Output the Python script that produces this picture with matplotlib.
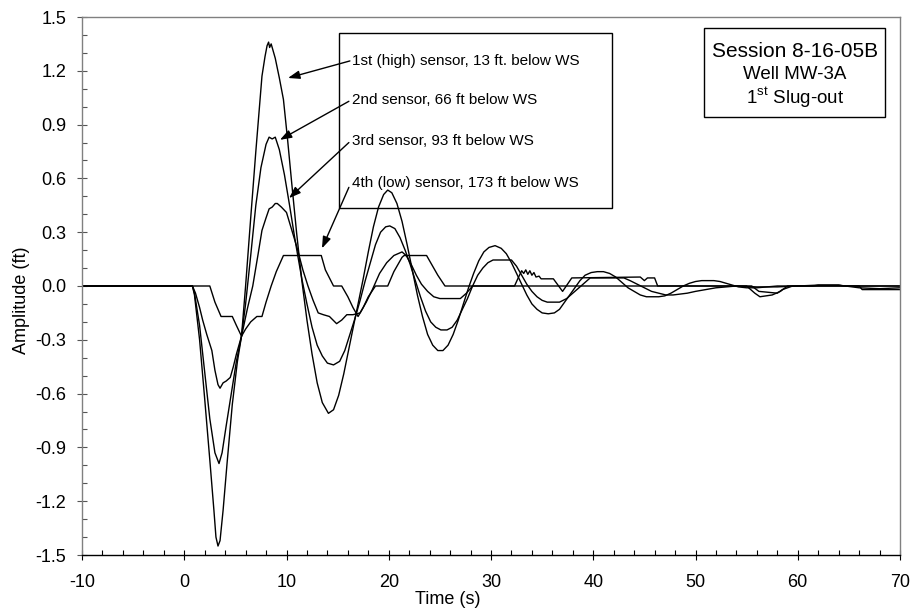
import matplotlib
matplotlib.use("Agg")
import matplotlib.pyplot as plt
from matplotlib.ticker import MultipleLocator, FormatStrFormatter
from matplotlib.patches import Rectangle

plt.rcParams['font.family'] = ['Liberation Sans', 'DejaVu Sans']
plt.rcParams['axes.unicode_minus'] = False
plt.rcParams['mathtext.fontset'] = 'custom'
plt.rcParams['mathtext.rm'] = 'Liberation Sans'

# ---- data (time in s, amplitude in ft) ----
t1 = [-10, 0.8, 1.0, 1.5, 2.0, 2.5, 2.9, 3.1, 3.3, 3.5, 3.8, 4.2, 4.7, 5.2, 5.6, 6.0, 6.5, 7.0, 7.6, 7.9,
      8.1, 8.25, 8.35, 8.5, 8.6, 8.9, 9.3, 9.7, 10.1, 10.5, 11.0, 11.5, 12.0, 12.5, 13.0, 13.5, 14.1, 14.6,
      15.1, 15.6, 16.1, 16.6, 17.0, 17.5, 18.0, 18.5, 19.0, 19.5, 19.9, 20.3, 20.8, 21.3, 21.8, 22.3, 22.8,
      23.3, 23.8, 24.3, 24.8, 25.3, 25.8, 26.3, 26.8, 27.3, 27.8, 28.3, 28.8, 29.3, 29.8, 30.4, 31.0, 31.5,
      32.0, 32.5, 33.0, 33.5, 34.0, 34.5, 35.0, 35.6, 36.2, 36.7, 37.2, 37.7, 38.2, 38.7, 39.2, 39.8, 40.4,
      41.0, 41.6, 42.2, 42.8, 43.4, 44.0, 44.6, 45.2, 45.8, 46.4, 47.0, 47.6, 48.2, 48.8, 49.4, 50.0, 50.6,
      51.2, 51.8, 52.4, 53.0, 53.6, 54.2, 55.0, 56.0, 57.0, 58.0, 60.0, 62.0, 64.0, 66.0, 68.0, 70.0]
a1 = [0, 0, -0.05, -0.30, -0.63, -0.97, -1.25, -1.40, -1.45, -1.42, -1.25, -0.98, -0.66, -0.42, -0.28, 0.00,
      0.38, 0.75, 1.17, 1.28, 1.34, 1.36, 1.33, 1.35, 1.33, 1.27, 1.16, 1.04, 0.82, 0.58, 0.29, 0.03, -0.19,
      -0.38, -0.54, -0.65, -0.71, -0.69, -0.61, -0.49, -0.35, -0.21, -0.10, 0.04, 0.19, 0.33, 0.44, 0.51,
      0.535, 0.52, 0.46, 0.36, 0.23, 0.09, -0.05, -0.17, -0.27, -0.33, -0.36, -0.36, -0.33, -0.27, -0.19,
      -0.10, -0.01, 0.07, 0.14, 0.19, 0.215, 0.225, 0.21, 0.18, 0.13, 0.07, 0.01, -0.05, -0.10, -0.13, -0.15,
      -0.155, -0.15, -0.13, -0.09, -0.05, -0.01, 0.03, 0.06, 0.075, 0.08, 0.08, 0.07, 0.05, 0.02, -0.01, -0.03,
      -0.05, -0.06, -0.06, -0.06, -0.055, -0.04, -0.02, 0.00, 0.015, 0.025, 0.03, 0.03, 0.03, 0.025, 0.015,
      0.005, -0.005, -0.01, -0.01, -0.005, 0.0, 0.0, 0.005, 0.005, -0.01, -0.015, -0.01]

t2 = [-10, 0.8, 1.0, 1.5, 2.0, 2.5, 3.0, 3.4, 3.7, 4.1, 4.6, 5.1, 5.6, 6.0, 6.5, 7.0, 7.5, 8.0, 8.3, 8.6,
      8.9, 9.3, 9.8, 10.3, 10.8, 11.1, 11.5, 12.0, 12.5, 13.0, 13.5, 14.0, 14.6, 15.2, 15.7, 16.2, 16.7,
      17.2, 17.7, 18.2, 18.7, 19.2, 19.7, 20.1, 20.6, 21.1, 21.6, 22.1, 22.6, 23.1, 23.6, 24.1, 24.6, 25.1,
      25.7, 26.2, 26.7, 27.2, 27.7, 28.2, 28.7, 29.2, 29.7, 30.2, 32.0, 32.5, 33.0, 33.5, 34.0, 34.5, 35.0,
      35.5, 36.7, 37.4, 38.0, 38.6, 39.2, 39.7, 43.0, 43.6, 44.3, 45.0, 45.7, 46.4, 47.1, 47.8, 48.5, 49.2,
      50.0, 51.0, 52.0, 54.0, 56.0, 58.0, 60.0, 64.0, 70.0]
a2 = [0, 0, -0.04, -0.22, -0.48, -0.74, -0.93, -0.99, -0.93, -0.78, -0.60, -0.42, -0.28, -0.10, 0.17, 0.45,
      0.66, 0.79, 0.83, 0.82, 0.83, 0.76, 0.62, 0.45, 0.27, 0.17, 0.04, -0.10, -0.23, -0.33, -0.39, -0.43,
      -0.44, -0.42, -0.36, -0.27, -0.18, -0.08, 0.03, 0.13, 0.23, 0.30, 0.33, 0.335, 0.32, 0.27, 0.20, 0.12,
      0.03, -0.06, -0.14, -0.20, -0.23, -0.245, -0.245, -0.23, -0.19, -0.13, -0.07, 0.00, 0.06, 0.10, 0.13,
      0.145, 0.145, 0.11, 0.06, 0.01, -0.03, -0.06, -0.08, -0.09, -0.09, -0.07, -0.04, -0.01, 0.02, 0.045,
      0.045, 0.03, 0.01, -0.01, -0.03, -0.04, -0.05, -0.05, -0.045, -0.04, -0.03, -0.02, -0.01, 0.0, -0.005,
      -0.005, 0.0, 0.0, 0.0]

t3 = [-10, 0.8, 1.1, 1.5, 1.8, 2.2, 2.7, 3.0, 3.3, 3.5, 3.8, 4.1, 4.5, 4.8, 5.1, 5.6, 6.2, 6.7, 7.2, 7.6,
      8.0, 8.3, 8.6, 8.9, 9.1, 9.5, 10.0, 11.0, 11.6, 12.1, 12.6, 13.1, 13.6, 14.2, 14.9, 15.4, 15.9, 16.5,
      17.2, 17.8, 18.4, 19.1, 19.8, 20.5, 21.3, 21.7, 22.2, 22.7, 23.2, 23.8, 24.4, 25.0, 27.0, 27.6, 28.2,
      32.3, 32.7, 33.0, 33.2, 33.4, 33.6, 33.8, 34.0, 34.2, 34.4, 34.7, 34.9, 36.1, 37.0, 37.9, 44.6, 45.0,
      45.3, 46.0, 46.3, 55.0, 55.8, 56.3, 57.5, 58.3, 59.0, 70.0]
a3 = [0, 0, -0.04, -0.12, -0.19, -0.27, -0.36, -0.47, -0.55, -0.57, -0.54, -0.53, -0.51, -0.45, -0.38,
      -0.28, -0.12, 0.00, 0.17, 0.31, 0.38, 0.43, 0.44, 0.46, 0.46, 0.44, 0.41, 0.22, 0.09, 0.00, -0.08,
      -0.15, -0.16, -0.17, -0.21, -0.19, -0.16, -0.16, -0.15, -0.09, -0.02, 0.07, 0.13, 0.17, 0.19, 0.17,
      0.12, 0.06, 0.01, -0.03, -0.06, -0.07, -0.07, -0.04, 0.00, 0.00, 0.05, 0.085, 0.07, 0.09, 0.065, 0.085,
      0.06, 0.075, 0.05, 0.055, 0.04, 0.04, -0.03, 0.045, 0.05, 0.03, 0.045, 0.045, 0.00, 0.00, -0.04, -0.06,
      -0.05, -0.03, 0.00, 0.00]

t4 = [-10, 2.5, 3.0, 3.6, 4.7, 5.1, 5.6, 6.0, 6.5, 7.1, 7.6, 8.0, 8.5, 9.0, 9.7, 13.4, 13.8, 14.6, 15.4,
      16.0, 16.5, 17.0, 17.5, 18.0, 18.7, 19.9, 20.5, 21.3, 21.5, 23.7, 24.2, 24.8, 25.5, 55.5, 56.2, 58.0,
      58.5, 59.5, 61.5, 62.0, 64.0, 64.5, 66.0, 66.3, 69.7, 70.0]
a4 = [0, 0, -0.09, -0.17, -0.17, -0.22, -0.28, -0.24, -0.20, -0.17, -0.17, -0.09, 0.00, 0.08, 0.17, 0.17,
      0.09, 0.00, 0.00, -0.06, -0.12, -0.17, -0.12, -0.06, 0.00, 0.00, 0.08, 0.16, 0.17, 0.17, 0.12, 0.06,
      0.00, 0.00, -0.03, -0.04, -0.02, 0.00, 0.00, 0.005, 0.005, 0.00, 0.00, -0.02, -0.02, -0.02]

legend_labels = ["1st (high) sensor, 13 ft. below WS",
                 "2nd sensor, 66 ft below WS",
                 "3rd sensor, 93 ft below WS",
                 "4th (low) sensor, 173 ft below WS"]
x_ticks = [-10, 0, 10, 20, 30, 40, 50, 60, 70]
y_ticks = [-1.5, -1.2, -0.9, -0.6, -0.3, 0.0, 0.3, 0.6, 0.9, 1.2, 1.5]

# ---- figure ----
fig = plt.figure(figsize=(9.12, 6.10), dpi=100)
ax = fig.add_axes([82/912, 55/610, 818/912, 538/610])

for t, a in [(t1, a1), (t2, a2), (t3, a3), (t4, a4)]:
    ax.plot(t, a, color='black', lw=1.0, solid_joinstyle='round', zorder=2)

ax.set_xlim(-10, 70)
ax.set_ylim(-1.5, 1.5)
ax.set_xticks(x_ticks)
ax.set_yticks(y_ticks)
ax.xaxis.set_minor_locator(MultipleLocator(2))
ax.yaxis.set_minor_locator(MultipleLocator(0.1))
ax.yaxis.set_major_formatter(FormatStrFormatter('%.1f'))
ax.xaxis.set_major_formatter(FormatStrFormatter('%d'))
ax.tick_params(which='major', direction='inout', length=7, width=0.8, labelsize=13, colors='black')
ax.tick_params(axis='x', which='major', pad=10)
ax.tick_params(axis='y', which='major', pad=8)
ax.tick_params(which='minor', direction='in', length=3.5, width=0.8)
ax.tick_params(axis='y', which='both', color='#555555')

for s in ['top', 'left', 'right']:
    ax.spines[s].set_color('#808080')
    ax.spines[s].set_linewidth(1.0)
ax.spines['top'].set_linestyle((0, (2, 1)))
ax.spines['left'].set_linestyle((0, (2, 1)))
ax.spines['bottom'].set_color('black')
ax.spines['bottom'].set_linewidth(1.0)

ax.set_xlabel('Time (s)', fontsize=13)
ax.set_ylabel('Amplitude (ft)', fontsize=13)
ax.xaxis.set_label_coords(0.447, -0.0836)
ax.xaxis.label.set_verticalalignment('center')
ax.yaxis.set_label_coords(-0.074, 0.474)
ax.yaxis.label.set_verticalalignment('center')

# legend box with arrows (curves are drawn over it)
ax.add_patch(Rectangle((15.13, 0.435), 26.70, 0.975, facecolor='white', edgecolor='black',
                       lw=1.0, zorder=1))
text_y = [1.255, 1.037, 0.809, 0.574]
tails = [(16.2, 1.255), (16.1, 1.03), (16.1, 0.80), (16.1, 0.55)]
tips = [(10.15, 1.16), (9.36, 0.815), (10.25, 0.49), (13.47, 0.21)]
for lab, ty in zip(legend_labels, text_y):
    ax.text(16.45, ty, lab, fontsize=11, va='center', ha='left', zorder=4)
for tail, tip in zip(tails, tips):
    ax.annotate('', xy=tip, xytext=tail,
                arrowprops=dict(arrowstyle='-|>,head_length=0.7,head_width=0.25', color='black',
                                lw=1.0, shrinkA=0, shrinkB=0),
                zorder=5)

# session box
ax.add_patch(Rectangle((50.83, 0.943), 17.70, 0.496, facecolor='white', edgecolor='black',
                       lw=1.0, zorder=3))
ax.text(59.73, 1.305, 'Session 8-16-05B', fontsize=15, ha='center', va='center', zorder=4)
ax.text(59.73, 1.177, 'Well MW-3A', fontsize=13.5, ha='center', va='center', zorder=4)
ax.text(59.73, 1.049, r'1$^{\mathrm{st}}$ Slug-out', fontsize=13.5, ha='center', va='center', zorder=4)

fig.savefig('out.png', dpi=100)
